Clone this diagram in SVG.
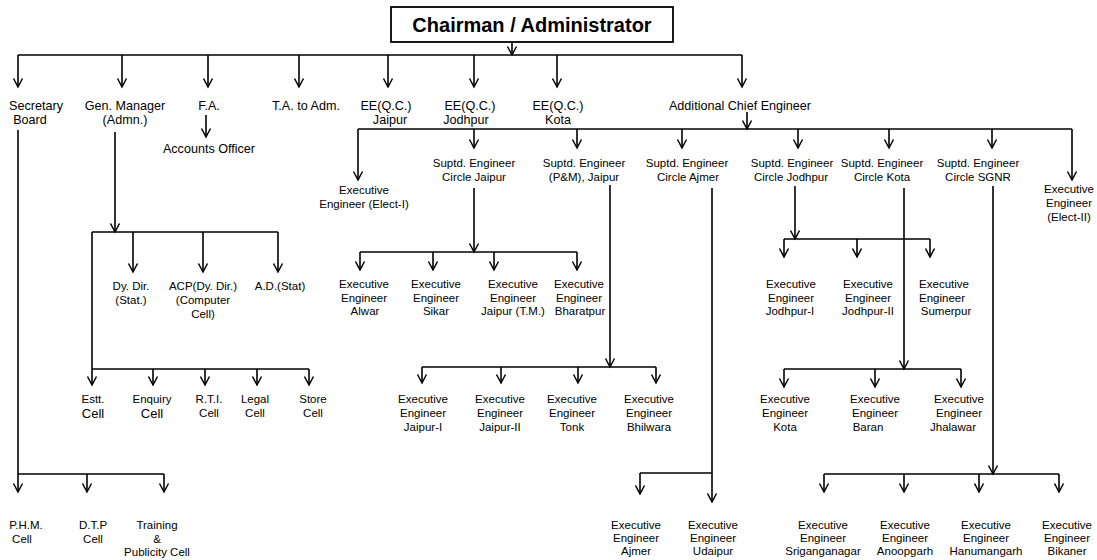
<svg xmlns="http://www.w3.org/2000/svg" width="1097" height="560" viewBox="0 0 1097 560">
  <style>
    text { font-family: "Liberation Sans", Arial, sans-serif; fill: #000; text-anchor: middle; }
    .top { font-size: 12.6px; }
    .sm { font-size: 11.5px; }
    .cell { font-size: 13px; }
    .head { font-size: 20px; font-weight: bold; }
    .box { fill: #fff; stroke: #000; stroke-width: 1.8; }
    .ln { fill: none; stroke: #000; stroke-width: 1.7; }
    .ar { fill: none; stroke: #000; stroke-width: 1.6; marker-end: url(#ah); }
  </style>
  <defs>
    <marker id="ah" markerWidth="10" markerHeight="10" refX="8.5" refY="4.5" orient="auto" markerUnits="userSpaceOnUse" overflow="visible">
      <path d="M0,0 L8.5,4.5 L0,9" fill="none" stroke="#000" stroke-width="1.5"/>
    </marker>
  </defs>
  <rect width="1097" height="560" fill="#fff"/>

  <g id="connectors">
    <!-- top level -->
    <path class="ar" d="M512,42 V55"/>
    <path class="ln" d="M18,55 H742"/>
    <path class="ar" d="M18,55 V87"/>
    <path class="ar" d="M122,55 V87"/>
    <path class="ar" d="M208,55 V87"/>
    <path class="ar" d="M299,55 V87"/>
    <path class="ar" d="M388,55 V87"/>
    <path class="ar" d="M474,55 V87"/>
    <path class="ar" d="M557,55 V87"/>
    <path class="ar" d="M742,55 V87"/>
    <path class="ar" d="M206,115 V137"/>

    <!-- additional chief engineer -->
    <path class="ar" d="M747,112 V129"/>
    <path class="ln" d="M358,129 H1072"/>
    <path class="ar" d="M358,129 V180"/>
    <path class="ar" d="M474,129 V148"/>
    <path class="ar" d="M577,129 V148"/>
    <path class="ar" d="M682,129 V148"/>
    <path class="ar" d="M798,129 V148"/>
    <path class="ar" d="M889,129 V148"/>
    <path class="ar" d="M992,129 V148"/>
    <path class="ar" d="M1072,129 V180"/>

    <!-- secretary board -->
    <path class="ar" d="M18,130 V492"/>
    <path class="ln" d="M18,474 H164"/>
    <path class="ar" d="M87,474 V492"/>
    <path class="ar" d="M164,474 V492"/>

    <!-- general manager -->
    <path class="ar" d="M115,132 V232"/>
    <path class="ln" d="M92,232 H278"/>
    <path class="ar" d="M133,232 V272"/>
    <path class="ar" d="M203,232 V272"/>
    <path class="ar" d="M278,232 V272"/>
    <path class="ar" d="M92,232 V385"/>
    <path class="ln" d="M92,369 H309"/>
    <path class="ar" d="M153,369 V385"/>
    <path class="ar" d="M205,369 V385"/>
    <path class="ar" d="M257,369 V385"/>
    <path class="ar" d="M309,369 V385"/>

    <!-- circle jaipur -->
    <path class="ar" d="M474,188 V252"/>
    <path class="ln" d="M360,252 H577"/>
    <path class="ar" d="M360,252 V270"/>
    <path class="ar" d="M433,252 V270"/>
    <path class="ar" d="M494,252 V270"/>
    <path class="ar" d="M577,252 V270"/>

    <!-- P&M jaipur -->
    <path class="ar" d="M610,185 V367"/>
    <path class="ln" d="M422,367 H656"/>
    <path class="ar" d="M422,367 V383"/>
    <path class="ar" d="M501,367 V383"/>
    <path class="ar" d="M578,367 V383"/>
    <path class="ar" d="M656,367 V383"/>

    <!-- circle ajmer -->
    <path class="ar" d="M712,188 V502"/>
    <path class="ln" d="M640,473 H712"/>
    <path class="ar" d="M640,473 V494"/>

    <!-- circle jodhpur -->
    <path class="ar" d="M795,186 V239"/>
    <path class="ln" d="M784,239 H930"/>
    <path class="ar" d="M784,239 V257"/>
    <path class="ar" d="M857,239 V257"/>
    <path class="ar" d="M930,239 V257"/>

    <!-- circle kota -->
    <path class="ar" d="M904,188 V369"/>
    <path class="ln" d="M784,369 H961"/>
    <path class="ar" d="M784,369 V387"/>
    <path class="ar" d="M875,369 V387"/>
    <path class="ar" d="M961,369 V387"/>

    <!-- circle SGNR -->
    <path class="ar" d="M993,186 V474"/>
    <path class="ln" d="M824,474 H1059"/>
    <path class="ar" d="M824,474 V492"/>
    <path class="ar" d="M904,474 V492"/>
    <path class="ar" d="M979,474 V492"/>
    <path class="ar" d="M1059,474 V492"/>
  </g>

  <g id="chairman">
    <rect class="box" x="391" y="7" width="282" height="35"/>
    <text class="head" x="532" y="32">Chairman / Administrator</text>
  </g>

  <!-- first level -->
  <g id="secretary"><text class="top"><tspan x="36" y="110">Secretary</tspan><tspan x="30" y="124">Board</tspan></text></g>
  <g id="gen-manager"><text class="top"><tspan x="125" y="110">Gen. Manager</tspan><tspan x="125" y="124">(Admn.)</tspan></text></g>
  <g id="fa"><text class="top" x="209" y="110">F.A.</text></g>
  <g id="accounts-officer"><text class="top" x="209" y="153">Accounts Officer</text></g>
  <g id="ta-adm"><text class="top" x="306" y="110">T.A. to Adm.</text></g>
  <g id="ee-qc-jaipur"><text class="top"><tspan x="386" y="110">EE(Q.C.)</tspan><tspan x="390" y="124">Jaipur</tspan></text></g>
  <g id="ee-qc-jodhpur"><text class="top"><tspan x="470" y="110">EE(Q.C.)</tspan><tspan x="466" y="124">Jodhpur</tspan></text></g>
  <g id="ee-qc-kota"><text class="top"><tspan x="558" y="110">EE(Q.C.)</tspan><tspan x="558" y="124">Kota</tspan></text></g>
  <g id="ace"><text class="top" x="740" y="110">Additional Chief Engineer</text></g>

  <!-- under additional chief engineer -->
  <g id="ee-elect-1"><text class="sm"><tspan x="364" y="194">Executive</tspan><tspan x="364" y="208">Engineer (Elect-I)</tspan></text></g>
  <g id="se-jaipur"><text class="sm"><tspan x="474" y="167">Suptd. Engineer</tspan><tspan x="474" y="181">Circle Jaipur</tspan></text></g>
  <g id="se-pm-jaipur"><text class="sm"><tspan x="584" y="167">Suptd. Engineer</tspan><tspan x="584" y="181">(P&amp;M), Jaipur</tspan></text></g>
  <g id="se-ajmer"><text class="sm"><tspan x="687" y="167">Suptd. Engineer</tspan><tspan x="688" y="181">Circle Ajmer</tspan></text></g>
  <g id="se-jodhpur"><text class="sm"><tspan x="792" y="167">Suptd. Engineer</tspan><tspan x="791" y="181">Circle Jodhpur</tspan></text></g>
  <g id="se-kota"><text class="sm"><tspan x="882" y="167">Suptd. Engineer</tspan><tspan x="882" y="181">Circle Kota</tspan></text></g>
  <g id="se-sgnr"><text class="sm"><tspan x="978" y="167">Suptd. Engineer</tspan><tspan x="978" y="181">Circle SGNR</tspan></text></g>
  <g id="ee-elect-2"><text class="sm"><tspan x="1069" y="193">Executive</tspan><tspan x="1069" y="207">Engineer</tspan><tspan x="1069" y="221">(Elect-II)</tspan></text></g>

  <!-- general manager branch -->
  <g id="dy-dir"><text class="sm"><tspan x="131" y="290">Dy. Dir.</tspan><tspan x="131" y="304">(Stat.)</tspan></text></g>
  <g id="acp"><text class="sm"><tspan x="203" y="290">ACP(Dy. Dir.)</tspan><tspan x="203" y="304">(Computer</tspan><tspan x="203" y="318">Cell)</tspan></text></g>
  <g id="ad-stat"><text class="sm" x="280" y="290">A.D.(Stat)</text></g>
  <g id="estt-cell"><text><tspan class="sm" x="93" y="403">Estt.</tspan><tspan class="cell" x="93" y="418">Cell</tspan></text></g>
  <g id="enquiry-cell"><text><tspan class="sm" x="152" y="403">Enquiry</tspan><tspan class="cell" x="152" y="418">Cell</tspan></text></g>
  <g id="rti-cell"><text class="sm"><tspan x="209" y="403">R.T.I.</tspan><tspan x="209" y="417">Cell</tspan></text></g>
  <g id="legal-cell"><text class="sm"><tspan x="255" y="403">Legal</tspan><tspan x="255" y="417">Cell</tspan></text></g>
  <g id="store-cell"><text class="sm"><tspan x="313" y="403">Store</tspan><tspan x="313" y="417">Cell</tspan></text></g>

  <!-- secretary branch -->
  <g id="phm-cell"><text class="sm"><tspan x="26" y="529">P.H.M.</tspan><tspan x="22" y="543">Cell</tspan></text></g>
  <g id="dtp-cell"><text class="sm"><tspan x="93" y="529">D.T.P</tspan><tspan x="93" y="543">Cell</tspan></text></g>
  <g id="training-cell"><text class="sm"><tspan x="157" y="529">Training</tspan><tspan x="157" y="543">&amp;</tspan><tspan x="157" y="556">Publicity Cell</tspan></text></g>

  <!-- circle jaipur divisions -->
  <g id="ee-alwar"><text class="sm"><tspan x="364" y="288">Executive</tspan><tspan x="364" y="302">Engineer</tspan><tspan x="365" y="315">Alwar</tspan></text></g>
  <g id="ee-sikar"><text class="sm"><tspan x="436" y="288">Executive</tspan><tspan x="436" y="302">Engineer</tspan><tspan x="436" y="315">Sikar</tspan></text></g>
  <g id="ee-jaipur-tm"><text class="sm"><tspan x="513" y="288">Executive</tspan><tspan x="513" y="302">Engineer</tspan><tspan x="513" y="315">Jaipur (T.M.)</tspan></text></g>
  <g id="ee-bharatpur"><text class="sm"><tspan x="579" y="288">Executive</tspan><tspan x="579" y="302">Engineer</tspan><tspan x="580" y="315">Bharatpur</tspan></text></g>

  <!-- P&M divisions -->
  <g id="ee-jaipur-1"><text class="sm"><tspan x="423" y="403">Executive</tspan><tspan x="423" y="417">Engineer</tspan><tspan x="423" y="431">Jaipur-I</tspan></text></g>
  <g id="ee-jaipur-2"><text class="sm"><tspan x="500" y="403">Executive</tspan><tspan x="500" y="417">Engineer</tspan><tspan x="500" y="431">Jaipur-II</tspan></text></g>
  <g id="ee-tonk"><text class="sm"><tspan x="572" y="403">Executive</tspan><tspan x="572" y="417">Engineer</tspan><tspan x="572" y="431">Tonk</tspan></text></g>
  <g id="ee-bhilwara"><text class="sm"><tspan x="649" y="403">Executive</tspan><tspan x="649" y="417">Engineer</tspan><tspan x="649" y="431">Bhilwara</tspan></text></g>

  <!-- circle ajmer divisions -->
  <g id="ee-ajmer"><text class="sm"><tspan x="636" y="529">Executive</tspan><tspan x="636" y="542">Engineer</tspan><tspan x="636" y="555">Ajmer</tspan></text></g>
  <g id="ee-udaipur"><text class="sm"><tspan x="713" y="529">Executive</tspan><tspan x="713" y="542">Engineer</tspan><tspan x="713" y="555">Udaipur</tspan></text></g>

  <!-- circle jodhpur divisions -->
  <g id="ee-jodhpur-1"><text class="sm"><tspan x="791" y="288">Executive</tspan><tspan x="791" y="302">Engineer</tspan><tspan x="790" y="315">Jodhpur-I</tspan></text></g>
  <g id="ee-jodhpur-2"><text class="sm"><tspan x="868" y="288">Executive</tspan><tspan x="868" y="302">Engineer</tspan><tspan x="868" y="315">Jodhpur-II</tspan></text></g>
  <g id="ee-sumerpur"><text class="sm"><tspan x="944" y="288">Executive</tspan><tspan x="942" y="302">Engineer</tspan><tspan x="946" y="315">Sumerpur</tspan></text></g>

  <!-- circle kota divisions -->
  <g id="ee-kota"><text class="sm"><tspan x="785" y="403">Executive</tspan><tspan x="785" y="417">Engineer</tspan><tspan x="785" y="431">Kota</tspan></text></g>
  <g id="ee-baran"><text class="sm"><tspan x="875" y="403">Executive</tspan><tspan x="875" y="417">Engineer</tspan><tspan x="868" y="431">Baran</tspan></text></g>
  <g id="ee-jhalawar"><text class="sm"><tspan x="959" y="403">Executive</tspan><tspan x="959" y="417">Engineer</tspan><tspan x="953" y="431">Jhalawar</tspan></text></g>

  <!-- circle SGNR divisions -->
  <g id="ee-sriganganagar"><text class="sm"><tspan x="823" y="529">Executive</tspan><tspan x="823" y="542">Engineer</tspan><tspan x="823" y="555">Sriganganagar</tspan></text></g>
  <g id="ee-anoopgarh"><text class="sm"><tspan x="905" y="529">Executive</tspan><tspan x="905" y="542">Engineer</tspan><tspan x="905" y="555">Anoopgarh</tspan></text></g>
  <g id="ee-hanumangarh"><text class="sm"><tspan x="986" y="529">Executive</tspan><tspan x="986" y="542">Engineer</tspan><tspan x="986" y="555">Hanumangarh</tspan></text></g>
  <g id="ee-bikaner"><text class="sm"><tspan x="1067" y="529">Executive</tspan><tspan x="1067" y="542">Engineer</tspan><tspan x="1067" y="555">Bikaner</tspan></text></g>
</svg>
